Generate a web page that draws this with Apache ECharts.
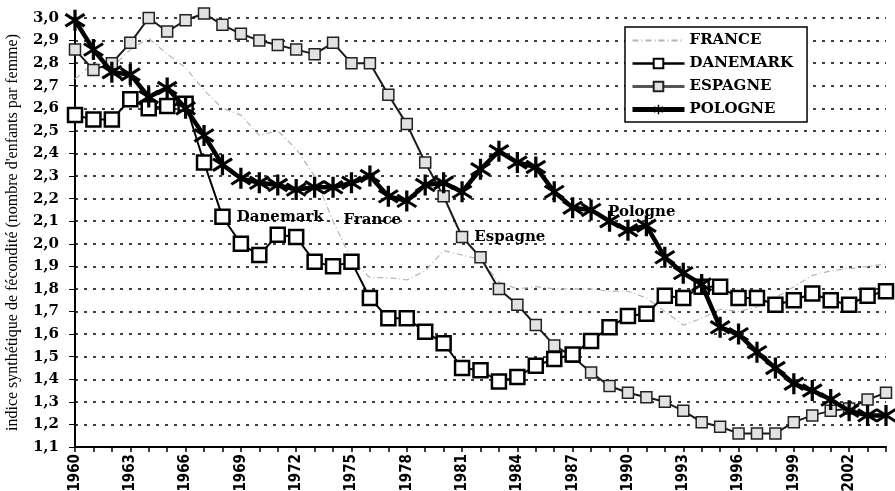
<!DOCTYPE html>
<html>
<head>
<meta charset="utf-8">
<script src="https://cdn.jsdelivr.net/npm/echarts@6/dist/echarts.min.js"></script>
<style>
  html, body { margin: 0; padding: 0; background: #fff; }
  #chart { width: 895px; height: 491px; }
</style>
</head>
<body>
<div id="chart"></div>
<script>
// années 1960 -> 2004
var years = [];
for (var y = 1960; y <= 2004; y++) years.push(String(y));

var france = [2.73, 2.80, 2.78, 2.86, 2.91, 2.84, 2.78, 2.68, 2.60, 2.57,
  2.48, 2.50, 2.42, 2.30, 2.10, 1.93, 1.85, 1.85, 1.84, 1.88,
  1.97, 1.95, 1.93, 1.83, 1.80, 1.81, 1.80, 1.80, 1.80, 1.79,
  1.79, 1.76, 1.70, 1.64, 1.67, 1.71, 1.70, 1.72, 1.76, 1.81,
  1.86, 1.88, 1.89, 1.90, 1.91];
var danemark = [2.57, 2.55, 2.55, 2.64, 2.60, 2.61, 2.62, 2.36, 2.12, 2.00,
  1.95, 2.04, 2.03, 1.92, 1.90, 1.92, 1.76, 1.67, 1.67, 1.61,
  1.56, 1.45, 1.44, 1.39, 1.41, 1.46, 1.49, 1.51, 1.57, 1.63,
  1.68, 1.69, 1.77, 1.76, 1.81, 1.81, 1.76, 1.76, 1.73, 1.75,
  1.78, 1.75, 1.73, 1.77, 1.79];
var espagne = [2.86, 2.77, 2.80, 2.89, 3.00, 2.94, 2.99, 3.02, 2.97, 2.93,
  2.90, 2.88, 2.86, 2.84, 2.89, 2.80, 2.80, 2.66, 2.53, 2.36,
  2.21, 2.03, 1.94, 1.80, 1.73, 1.64, 1.55, 1.50, 1.43, 1.37,
  1.34, 1.32, 1.30, 1.26, 1.21, 1.19, 1.16, 1.16, 1.16, 1.21,
  1.24, 1.26, 1.27, 1.31, 1.34];
var pologne = [2.99, 2.86, 2.76, 2.75, 2.65, 2.69, 2.60, 2.48, 2.35, 2.29,
  2.27, 2.26, 2.24, 2.25, 2.25, 2.27, 2.30, 2.21, 2.19, 2.26,
  2.27, 2.23, 2.33, 2.41, 2.36, 2.34, 2.23, 2.16, 2.15, 2.10,
  2.06, 2.08, 1.94, 1.87, 1.82, 1.63, 1.60, 1.52, 1.45, 1.38,
  1.35, 1.31, 1.26, 1.24, 1.24];

var serif = '"DejaVu Serif", "Liberation Serif", serif';
var serif2 = '"Liberation Serif", serif';
var narrow = '"Liberation Sans Narrow", "DejaVu Sans Condensed", sans-serif';

// étiquette posée sur un point précis d'une série
function withLabel(arr, year, text, opts) {
  var idx = years.indexOf(String(year));
  return arr.map(function (v, i) {
    if (i !== idx) return v;
    return {
      value: v,
      label: Object.assign({
        show: true, formatter: text, position: 'right',
        fontFamily: serif, fontWeight: 'bold', fontSize: 15, color: '#000',
        textBorderWidth: 0
      }, opts || {})
    };
  });
}

// astérisque (X + barre verticale)
function asterisk() {
  var p = '', t = 1.4, L = 10;
  [0, 55, -55].forEach(function (deg) {
    var a = deg * Math.PI / 180;
    var dx = Math.sin(a), dy = -Math.cos(a);
    var nx = -dy, ny = dx;
    var pts = [
      [L * dx + t * nx, L * dy + t * ny],
      [L * dx - t * nx, L * dy - t * ny],
      [-L * dx - t * nx, -L * dy - t * ny],
      [-L * dx + t * nx, -L * dy + t * ny]
    ];
    p += 'M' + pts.map(function (q) { return (q[0] + 10).toFixed(2) + ',' + (q[1] + 10).toFixed(2); }).join('L') + 'Z';
  });
  return 'path://' + p;
}

var chart = echarts.init(document.getElementById('chart'));
chart.setOption({
  animation: false,
  backgroundColor: '#fff',
  grid: { left: 75, right: 9, top: 18, bottom: 44, containLabel: false, outerBoundsMode: 'none' },
  legend: {
    orient: 'vertical',
    left: 625, top: 27,
    padding: [6, 14, 5, 5],
    itemGap: 8,
    itemWidth: 52, itemHeight: 12,
    borderColor: '#000', borderWidth: 1.5,
    backgroundColor: '#fff',
    textStyle: { fontFamily: serif, fontWeight: 'bold', fontSize: 15, color: '#000' },
    formatter: function (n) { return n.toUpperCase(); },
    data: [
      { name: 'France' },
      { name: 'Danemark', lineStyle: { width: 2.5 } },
      { name: 'Espagne', lineStyle: { width: 3, color: '#555' } },
      { name: 'Pologne', lineStyle: { width: 5 } }
    ]
  },
  xAxis: {
    type: 'category',
    data: years,
    boundaryGap: false,
    axisLine: { lineStyle: { color: '#000', width: 2 } },
    axisTick: { interval: 0, length: 5, lineStyle: { color: '#000', width: 1.5 } },
    axisLabel: {
      interval: 2, rotate: 90, margin: 7,
      fontFamily: narrow, fontWeight: 'bold', fontSize: 15, color: '#000'
    },
    splitLine: { show: false }
  },
  yAxis: {
    type: 'value',
    min: 1.1, max: 3.0, interval: 0.1,
    name: "indice synthétique de fécondité (nombre d'enfants par femme)",
    nameLocation: 'middle', nameRotate: 90, nameGap: 54, nameMoveOverlap: false,
    nameTextStyle: { fontFamily: serif2, fontSize: 16, color: '#000' },
    axisLine: { show: true, lineStyle: { color: '#000', width: 2 } },
    axisTick: { show: true, length: 6, lineStyle: { color: '#000' } },
    axisLabel: {
      margin: 16,
      fontFamily: serif, fontWeight: 'bold', fontSize: 15, color: '#000',
      formatter: function (v) { return v.toFixed(1).replace('.', ','); }
    },
    splitLine: { show: true, lineStyle: { color: '#000', width: 1.5, type: [3, 6] } }
  },
  series: [
    {
      name: 'France', type: 'line', clip: false, showAllSymbol: true,
      data: withLabel(france, 1974, 'France', { distance: 10, offset: [0, -1] }),
      symbol: 'circle', symbolSize: 1,
      lineStyle: { color: '#b4b4b4', width: 1.2, type: [6, 3, 1, 3] },
      itemStyle: { color: 'rgba(0,0,0,0)' },
      z: 1
    },
    {
      name: 'Danemark', type: 'line', clip: false, showAllSymbol: true,
      data: withLabel(danemark, 1968, 'Danemark', { distance: 6 }),
      symbol: 'rect', symbolSize: 14,
      lineStyle: { color: '#000', width: 2 },
      itemStyle: { color: '#fff', borderColor: '#000', borderWidth: 2.5 },
      z: 3
    },
    {
      name: 'Espagne', type: 'line', clip: false, showAllSymbol: true,
      data: withLabel(espagne, 1981, 'Espagne', { distance: 6 }),
      symbol: 'rect', symbolSize: 11,
      lineStyle: { color: '#1a1a1a', width: 2 },
      itemStyle: { color: '#e2e2e2', borderColor: '#222', borderWidth: 1.5 },
      z: 2
    },
    {
      name: 'Pologne', type: 'line', clip: false, showAllSymbol: true,
      data: withLabel(pologne, 1989, 'Pologne', { position: 'right', distance: 0, offset: [-12, -9] }),
      symbol: asterisk(), symbolSize: 21,
      lineStyle: { color: '#000', width: 4.5 },
      itemStyle: { color: '#000', borderColor: '#000', borderWidth: 0 },
      z: 4
    }
  ]
});
</script>
</body>
</html>
